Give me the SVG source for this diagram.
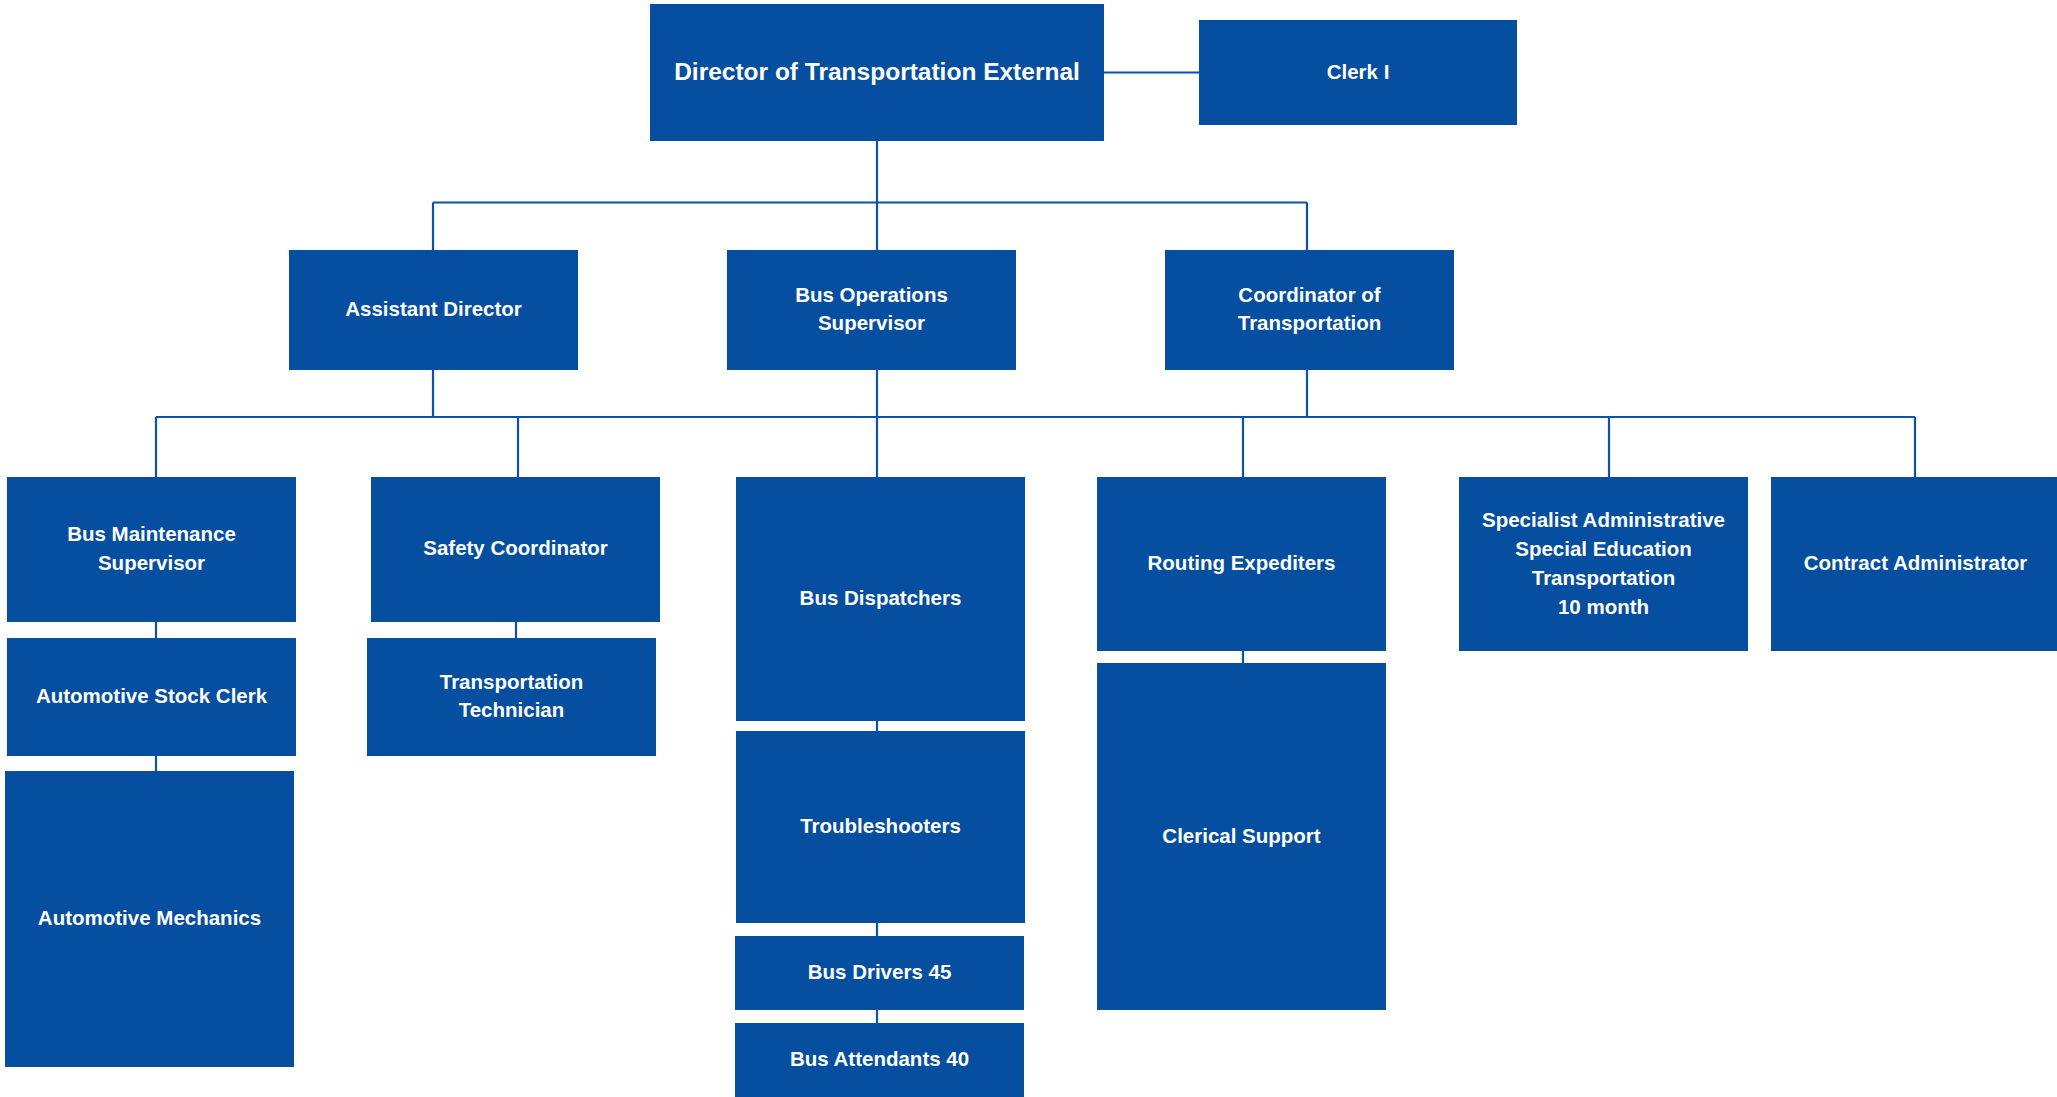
<svg xmlns="http://www.w3.org/2000/svg" width="2057" height="1097" viewBox="0 0 2057 1097">
<style>
.box{fill:#054EA0}
.t{font-family:"Liberation Sans",Arial,sans-serif;font-weight:bold;font-size:20.5px;fill:#FFFFFF;text-anchor:middle;dominant-baseline:central}
.big{font-size:24.5px}
.c{stroke:#0B52A8;stroke-width:2.2;fill:none}
</style>
<rect width="2057" height="1097" fill="#FFFFFF"/>
<g id="connectors">
<line class="c" x1="1104" y1="72.5" x2="1199" y2="72.5"/>
<line class="c" x1="877" y1="141" x2="877" y2="250"/>
<line class="c" x1="433" y1="202.5" x2="1307" y2="202.5"/>
<line class="c" x1="433" y1="202.5" x2="433" y2="250"/>
<line class="c" x1="1307" y1="202.5" x2="1307" y2="250"/>
<line class="c" x1="433" y1="370" x2="433" y2="417"/>
<line class="c" x1="877" y1="370" x2="877" y2="477"/>
<line class="c" x1="1307" y1="370" x2="1307" y2="417"/>
<line class="c" x1="156" y1="417" x2="1915" y2="417"/>
<line class="c" x1="156" y1="417" x2="156" y2="477"/>
<line class="c" x1="518" y1="417" x2="518" y2="477"/>
<line class="c" x1="1243" y1="417" x2="1243" y2="477"/>
<line class="c" x1="1609" y1="417" x2="1609" y2="477"/>
<line class="c" x1="1915" y1="417" x2="1915" y2="477"/>
<line class="c" x1="156" y1="622" x2="156" y2="638"/>
<line class="c" x1="156" y1="756" x2="156" y2="771"/>
<line class="c" x1="516" y1="622" x2="516" y2="638"/>
<line class="c" x1="877" y1="721" x2="877" y2="731"/>
<line class="c" x1="877" y1="923" x2="877" y2="936"/>
<line class="c" x1="877" y1="1010" x2="877" y2="1023"/>
<line class="c" x1="1243" y1="651" x2="1243" y2="663"/>
</g>
<g id="director"><rect class="box" x="650" y="4" width="454" height="137"/><text class="t big" x="877" y="71.5">Director of Transportation External</text></g>
<g id="clerk1"><rect class="box" x="1199" y="20" width="318" height="105"/><text class="t" x="1358" y="71">Clerk I</text></g>
<g id="assistant-director"><rect class="box" x="289" y="250" width="289" height="120"/><text class="t" x="433.5" y="308.5">Assistant Director</text></g>
<g id="bus-ops"><rect class="box" x="727" y="250" width="289" height="120"/><text class="t" x="871.5" y="294.5">Bus Operations</text><text class="t" x="871.5" y="322.5">Supervisor</text></g>
<g id="coordinator"><rect class="box" x="1165" y="250" width="289" height="120"/><text class="t" x="1309.5" y="294.5">Coordinator of</text><text class="t" x="1309.5" y="322.5">Transportation</text></g>
<g id="bus-maint"><rect class="box" x="7" y="477" width="289" height="145"/><text class="t" x="151.5" y="533.5">Bus Maintenance</text><text class="t" x="151.5" y="562.5">Supervisor</text></g>
<g id="safety"><rect class="box" x="371" y="477" width="289" height="145"/><text class="t" x="515.5" y="547">Safety Coordinator</text></g>
<g id="stock-clerk"><rect class="box" x="7" y="638" width="289" height="118"/><text class="t" x="151.5" y="695.5">Automotive Stock Clerk</text></g>
<g id="transp-tech"><rect class="box" x="367" y="638" width="289" height="118"/><text class="t" x="511.5" y="681.5">Transportation</text><text class="t" x="511.5" y="709.5">Technician</text></g>
<g id="mechanics"><rect class="box" x="5" y="771" width="289" height="296"/><text class="t" x="149.5" y="917.5">Automotive Mechanics</text></g>
<g id="dispatchers"><rect class="box" x="736" y="477" width="289" height="244"/><text class="t" x="880.5" y="597.5">Bus Dispatchers</text></g>
<g id="troubleshooters"><rect class="box" x="736" y="731" width="289" height="192"/><text class="t" x="880.5" y="825.5">Troubleshooters</text></g>
<g id="drivers"><rect class="box" x="735" y="936" width="289" height="74"/><text class="t" x="879.5" y="971.5">Bus Drivers 45</text></g>
<g id="attendants"><rect class="box" x="735" y="1023" width="289" height="74"/><text class="t" x="879.5" y="1058.5">Bus Attendants 40</text></g>
<g id="routing"><rect class="box" x="1097" y="477" width="289" height="174"/><text class="t" x="1241.5" y="562.5">Routing Expediters</text></g>
<g id="clerical"><rect class="box" x="1097" y="663" width="289" height="347"/><text class="t" x="1241.5" y="835">Clerical Support</text></g>
<g id="specialist"><rect class="box" x="1459" y="477" width="289" height="174"/><text class="t" x="1603.5" y="519.5">Specialist Administrative</text><text class="t" x="1603.5" y="548.5">Special Education</text><text class="t" x="1603.5" y="577.5">Transportation</text><text class="t" x="1603.5" y="606.5">10 month</text></g>
<g id="contract"><rect class="box" x="1771" y="477" width="289" height="174"/><text class="t" x="1915.5" y="562.5">Contract Administrator</text></g>
</svg>
